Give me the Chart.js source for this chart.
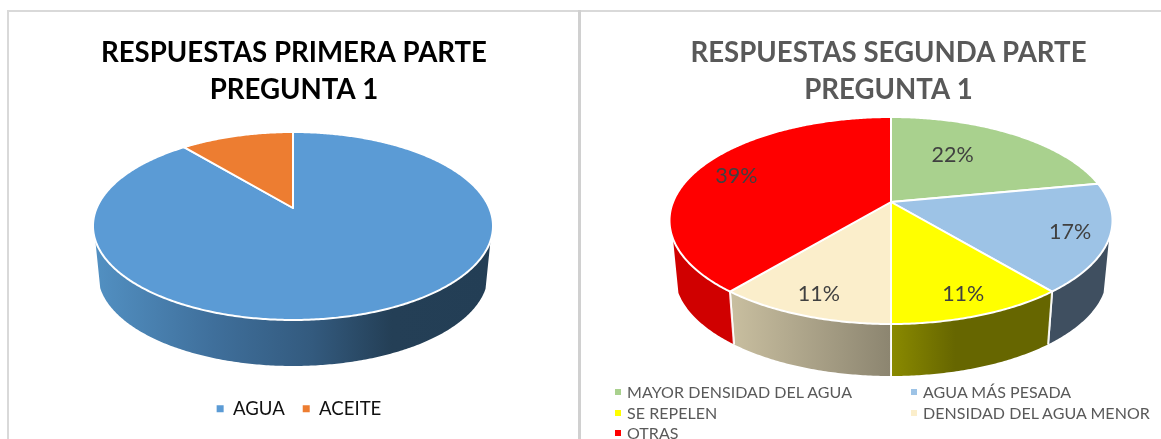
<!DOCTYPE html>
<html><head><meta charset="utf-8">
<style>
html,body{margin:0;padding:0;background:#fff;overflow:hidden;width:1161px;height:439px;position:relative}
canvas{position:absolute;top:0}
.line{position:absolute;background:#d9d9d9}
#legend2{position:absolute;left:0;top:0;font:16px Lato,sans-serif;color:#595959;letter-spacing:.05px}
#legend2 div{position:absolute;white-space:nowrap;line-height:20px}
#legend2 i{position:absolute;width:6px;height:6px;top:7px}
</style>
<script src="https://cdn.jsdelivr.net/npm/chart.js@4"></script>
</head><body>
<div class="line" style="left:7px;top:10px;width:1154px;height:2px"></div>
<div class="line" style="left:7px;top:10px;width:2px;height:429px"></div>
<div class="line" style="left:578px;top:10px;width:3px;height:429px;background:#d0d0d0"></div>
<canvas id="c1" width="572" height="439" style="left:8px"></canvas>
<canvas id="c2" width="545" height="439" style="left:616px"></canvas>
<div id="legend2"></div>
<script>
const titleLeft = ['RESPUESTAS PRIMERA PARTE', 'PREGUNTA 1'];
const categoriesLeft = ['AGUA', 'ACEITE'];
const valuesLeft = [89, 11];
const colorsLeft = ['#5b9bd5', '#ed7d31'];

const titleRight = ['RESPUESTAS SEGUNDA PARTE', 'PREGUNTA 1'];
const categoriesRight = ['MAYOR DENSIDAD DEL AGUA', 'AGUA MÁS PESADA', 'SE REPELEN', 'DENSIDAD DEL AGUA MENOR', 'OTRAS'];
const valuesRight = [22, 17, 11, 11, 39];
const colorsRight = ['#a9d18e', '#9dc3e6', '#ffff00', '#fbeecb', '#ff0000'];

// A circle turned into a tilted disc with a thick rim, seen in perspective.
const tiltedPie = {
  id: 'tiltedPie',
  afterLayout(chart, args, o) {
    if (chart.legend && o.legendShift) { chart.legend.left += o.legendShift; chart.legend.right += o.legendShift; }
  },
  beforeDatasetDraw(chart, args, o) {
    const ctx = chart.ctx;
    const ey = (o.top + o.bottom) / 2, ry = (o.bottom - o.top) / 2;
    const up = o.apexY - o.top, down = o.bottom - o.apexY;
    const m = (down - up) / (down + up), B = up * (1 + m), A = o.rx * Math.sqrt(1 - m * m);
    const by = o.wallBottom - ry * o.wallScale;
    const proj = (a, r = 1) => {
      const u = r * Math.cos(a), v = r * Math.sin(a), t = 1 - m * v;
      return [o.cx + A * u / t, o.apexY + B * v / t];
    };
    const low = p => [o.cx + (p[0] - o.cx) * o.wallScale, by + (p[1] - ey) * o.wallScale];
    const arcs = args.meta.data;
    const samples = el => {
      const n = Math.max(2, Math.ceil((el.endAngle - el.startAngle) / 0.01)), pts = [];
      for (let i = 0; i <= n; i++) pts.push(proj(el.startAngle + (el.endAngle - el.startAngle) * i / n));
      return pts;
    };
    // rim
    arcs.forEach((el, i) => {
      const front = samples(el).filter(p => p[1] >= ey + o.wallStart);
      if (front.length < 2) return;
      const xs = front.concat(front.map(low)).map(p => p[0]);
      const x0 = Math.min(...xs), x1 = Math.max(...xs);
      const stops = o.wallStops[i];
      const g = ctx.createLinearGradient(x0, 0, x1, 0);
      stops.forEach(s => g.addColorStop(s[0], s[1]));
      ctx.save();
      ctx.beginPath();
      front.forEach((p, k) => k ? ctx.lineTo(p[0], p[1]) : ctx.moveTo(p[0], p[1]));
      front.slice().reverse().forEach(p => { const q = low(p); ctx.lineTo(q[0], q[1]); });
      ctx.closePath();
      ctx.fillStyle = g;
      ctx.fill();
      ctx.strokeStyle = 'rgba(255,255,255,.9)';
      ctx.lineWidth = o.edge;
      [front[0], front[front.length - 1]].forEach(p => {
        if (p[1] < ey + o.wallStart + 6) return;
        const q = low(p);
        ctx.beginPath(); ctx.moveTo(p[0], p[1]); ctx.lineTo(q[0], q[1]); ctx.stroke();
      });
      ctx.restore();
    });
    // top faces
    arcs.forEach((el, i) => {
      ctx.save();
      ctx.beginPath();
      const c = proj(0, 0);
      ctx.moveTo(c[0], c[1]);
      samples(el).forEach(p => ctx.lineTo(p[0], p[1]));
      ctx.closePath();
      ctx.fillStyle = el.options.backgroundColor;
      ctx.fill();
      ctx.strokeStyle = '#fff';
      ctx.lineWidth = o.edge;
      ctx.lineJoin = 'round';
      ctx.stroke();
      ctx.restore();
    });
    // value labels
    if (o.labelRadius) {
      const total = args.meta.total;
      const vals = chart.data.datasets[args.index].data;
      arcs.forEach((el, i) => {
        const p = proj((el.startAngle + el.endAngle) / 2 + (o.labelTurn[i] || 0), o.labelRadius[i]);
        ctx.save();
        ctx.font = o.labelFont;
        ctx.fillStyle = '#404040';
        ctx.textAlign = 'center';
        ctx.textBaseline = 'middle';
        ctx.fillText(Math.round(vals[i] / total * 100) + '%', p[0], p[1]);
        ctx.restore();
      });
    }
    return false;
  }
};

const FONT = 'Lato, "Open Sans", sans-serif';
function pie(id, title, titleColor, cats, vals, colors, legendOn, geom) {
  return new Chart(document.getElementById(id), {
    type: 'pie',
    plugins: [tiltedPie],
    data: { labels: cats, datasets: [{ data: vals, backgroundColor: colors, borderWidth: 0 }] },
    options: {
      responsive: false, animation: false, events: [],
      layout: { padding: { top: 35, bottom: 11 } },
      plugins: {
        tooltip: { enabled: false },
        title: { display: true, text: title, color: titleColor, padding: 0,
                 font: { family: FONT, size: 27.6, weight: 'bold', lineHeight: 1.34 } },
        legend: { display: legendOn, position: 'bottom',
                  labels: { boxWidth: 7, boxHeight: 7, padding: 18, color: '#111',
                            font: { family: FONT, size: 18.6 } } },
        tiltedPie: geom
      }
    }
  });
}

pie('c1', titleLeft, '#000000', categoriesLeft, valuesLeft, colorsLeft, true, {
  cx: 285, top: 132, apexY: 208, bottom: 320, rx: 200, wallBottom: 366, wallScale: .975, wallStart: 14, edge: 2, legendShift: 5,
  wallStops: [
    [[0, '#5290c2'], [.3, '#3f6f9b'], [.55, '#335a7e'], [.75, '#243f56'], [1, '#233e55']],
    [[0, '#a85a24'], [1, '#a85a24']]
  ]
});
pie('c2', titleRight, '#595959', categoriesRight, valuesRight, colorsRight, false, {
  cx: 275, top: 117, apexY: 202, bottom: 324, rx: 221.5, wallBottom: 376, wallScale: .975, wallStart: 18, edge: 2,
  wallStops: [
    [[0, '#6a8a55'], [1, '#6a8a55']],
    [[0, '#3f4f60'], [1, '#3f4f60']],
    [[0, '#8a8a00'], [.4, '#666600'], [1, '#666600']],
    [[0, '#c9bfa0'], [1, '#8c8570']],
    [[0, '#d00000'], [1, '#d00000']]
  ],
  labelRadius: [.6, .83, .84, .84, .79],
  labelTurn: [-.15, 0, 0, 0, 0],
  labelFont: '21.5px ' + FONT
});

// two-column legend for the second pie
const spots = [[615, 392], [911, 392], [615, 413], [911, 413], [615, 433]];
const host = document.getElementById('legend2');
categoriesRight.forEach((name, i) => {
  const d = document.createElement('div');
  d.style.left = spots[i][0] + 'px';
  d.style.top = (spots[i][1] - 10) + 'px';
  d.style.paddingLeft = '12px';
  d.textContent = name;
  const b = document.createElement('i');
  b.style.left = '0'; b.style.background = colorsRight[i];
  d.appendChild(b);
  host.appendChild(d);
});
</script>
</body></html>
